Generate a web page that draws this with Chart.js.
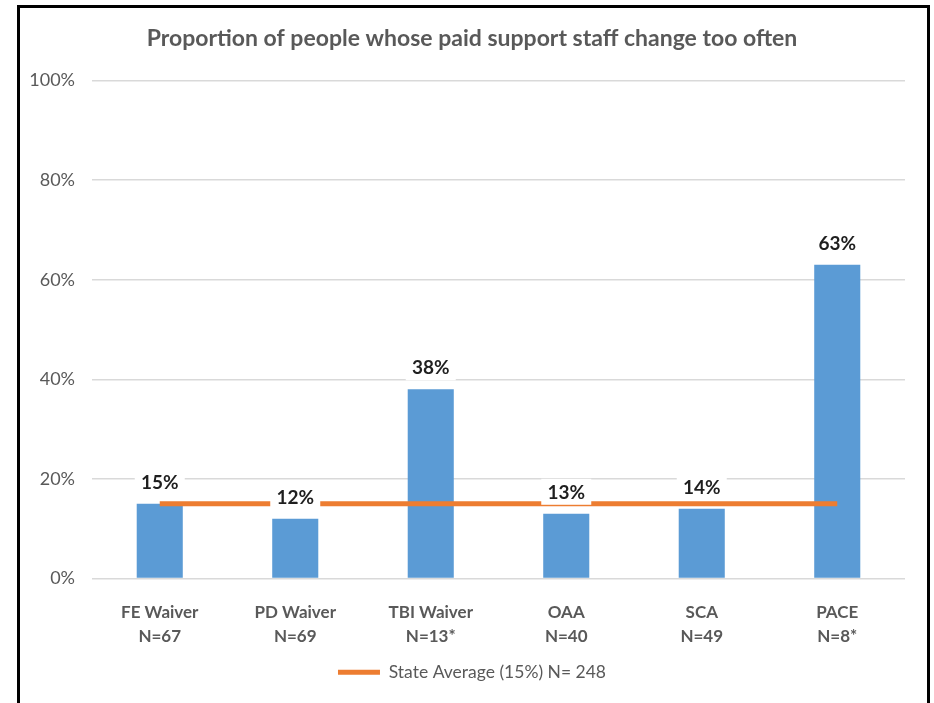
<!DOCTYPE html>
<html>
<head>
<meta charset="utf-8">
<title>Paid support staff turnover</title>
<script src="https://cdn.jsdelivr.net/npm/chart.js@4/dist/chart.umd.min.js"></script>
<style>
  html, body { margin: 0; padding: 0; background: #fff; }
  #wrap { position: relative; width: 934px; height: 703px; overflow: hidden; }
  #frame {
    position: absolute; left: 17px; top: 5px; width: 907px; height: 760px;
    border: 3px solid #000; pointer-events: none;
  }
</style>
</head>
<body>
<div id="wrap">
  <canvas id="staffChart"></canvas>
  <div id="frame"></div>
</div>
<script>
const programs = [
  ["FE Waiver", "N=67"],
  ["PD Waiver", "N=69"],
  ["TBI Waiver", "N=13*"],
  ["OAA", "N=40"],
  ["SCA", "N=49"],
  ["PACE", "N=8*"],
];
const changeTooOften = [15, 12, 38, 13, 14, 63];
const stateAverage = [15, 15, 15, 15, 15, 15];
const stateLabel = "State Average (15%) N= 248";
const yTicks = [0, 20, 40, 60, 80, 100];

const FONT = "Lato, 'Liberation Sans', sans-serif";
const GRAY = "#595959";

// value labels sit on a white box above each bar, covering the average line
const barLabels = {
  id: "barLabels",
  afterDatasetsDraw(chart) {
    const ctx = chart.ctx;
    const meta = chart.getDatasetMeta(1);
    ctx.save();
    ctx.font = "bold 19px " + FONT;
    ctx.textAlign = "center";
    ctx.textBaseline = "middle";
    meta.data.forEach((bar, i) => {
      const y = bar.y - 22;
      ctx.fillStyle = "#fff";
      ctx.fillRect(bar.x - 25, y - 13, 50, 26);
      ctx.fillStyle = "#1f1f1f";
      ctx.fillText(changeTooOften[i] + "%", bar.x, y + 1);
    });
    ctx.restore();
  },
};

const staffConfig = {
  data: {
    labels: programs,
    datasets: [
      {
        type: "line",
        label: stateLabel,
        data: stateAverage,
        borderColor: "#ED7D31",
        backgroundColor: "#ED7D31",
        borderWidth: 5,
        pointRadius: 0,
        order: 0,
      },
      {
        type: "bar",
        label: "Proportion",
        data: changeTooOften,
        backgroundColor: "#5B9BD5",
        categoryPercentage: 1,
        barPercentage: 0.34,
        order: 1,
      },
    ],
  },
  options: {
    responsive: true,
    maintainAspectRatio: false,
    animation: false,
    layout: { padding: { left: 18, right: 8, top: 8, bottom: 12 } },
    plugins: {
      title: {
        display: true,
        text: "Proportion of people whose paid support staff change too often",
        color: GRAY,
        font: { family: FONT, size: 23, weight: "bold" },
        padding: { top: 17, bottom: 28 },
      },
      legend: {
        position: "bottom",
        labels: {
          filter: (item) => item.datasetIndex === 0,
          usePointStyle: true,
          pointStyle: "line",
          pointStyleWidth: 42,
          color: GRAY,
          font: { family: FONT, size: 17.5 },
          padding: 9,
        },
      },
      tooltip: { enabled: false },
    },
    scales: {
      x: {
        grid: { display: false },
        border: { display: false },
        ticks: {
          color: GRAY,
          font: { family: FONT, size: 17, weight: "bold", lineHeight: 1.42 },
          padding: 14,
          maxRotation: 0,
        },
        afterFit(scale) { scale.height = 76; },
      },
      y: {
        min: 0,
        max: 100,
        afterBuildTicks(scale) { scale.ticks = yTicks.map((v) => ({ value: v })); },
        grid: { color: "#D9D9D9", lineWidth: 1.5, drawTicks: false },
        border: { display: false },
        ticks: {
          color: GRAY,
          font: { family: FONT, size: 18 },
          padding: 17,
          callback: (v) => v + "%",
        },
        afterFit(scale) { scale.width = 74; },
      },
      yRight: {
        position: "right",
        grid: { display: false },
        border: { display: false },
        ticks: { display: false },
        afterFit(scale) { scale.width = 21; },
      },
    },
  },
  plugins: [barLabels],
};

const staffCtx = document.getElementById("staffChart");
window.staffChart = new Chart(staffCtx, staffConfig);
</script>
</body>
</html>
